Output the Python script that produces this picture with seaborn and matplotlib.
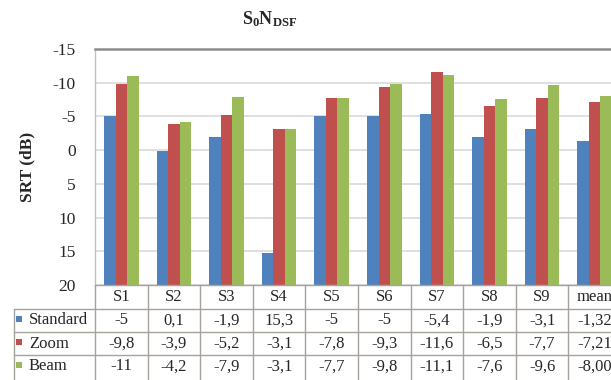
import matplotlib
matplotlib.use("Agg")
import matplotlib.pyplot as plt
import matplotlib.transforms as mtransforms
from matplotlib.lines import Line2D
from matplotlib.patches import Rectangle
import pandas as pd
import seaborn as sns

# ---- data -------------------------------------------------------------
subjects = ["S1", "S2", "S3", "S4", "S5", "S6", "S7", "S8", "S9", "mean"]
standard = [-5, 0.1, -1.9, 15.3, -5, -5, -5.4, -1.9, -3.1, -1.32]
zoom = [-9.8, -3.9, -5.2, -3.1, -7.8, -9.3, -11.6, -6.5, -7.7, -7.21]
beam = [-11, -4.2, -7.9, -3.1, -7.7, -9.8, -11.1, -7.6, -9.6, -8.00]
series_names = ["Standard", "Zoom", "Beam"]
series_values = [standard, zoom, beam]
series_colors = ["#4F81BD", "#C0504D", "#9BBB59"]
y_ticks = [-15, -10, -5, 0, 5, 10, 15, 20]

BASE = 20  # bars grow from the bottom of the reversed axis

rows = []
for name, vals in zip(series_names, series_values):
    for subj, v in zip(subjects, vals):
        rows.append({"subject": subj, "series": name, "value": v, "height": v - BASE})
df = pd.DataFrame(rows)

# ---- figure -----------------------------------------------------------
W, H = 611, 380
sns.set_style("white")
plt.rcParams["font.family"] = ["Liberation Serif", "DejaVu Serif"]
plt.rcParams["mathtext.fontset"] = "custom"
plt.rcParams["mathtext.rm"] = "Liberation Serif:bold"
plt.rcParams["mathtext.it"] = "Liberation Serif:bold"
plt.rcParams["mathtext.bf"] = "Liberation Serif:bold"

fig = plt.figure(figsize=(W / 100, H / 100), dpi=100)
fig.patch.set_facecolor("white")

def fx(px):
    return px / W

def fy(py):
    return 1 - py / H

ax_left, ax_right, ax_top, ax_bottom = 95, 621, 49, 285
ax = fig.add_axes([fx(ax_left), fy(ax_bottom), fx(ax_right - ax_left), (ax_bottom - ax_top) / H])

sns.barplot(data=df, x="subject", y="height", hue="series", order=subjects,
            hue_order=series_names, palette=series_colors, saturation=1,
            width=0.66, errorbar=None, bottom=BASE, legend=False,
            linewidth=0, edgecolor="none", ax=ax)

ax.set_ylim(BASE, -15)
ax.set_xlim(-0.5, len(subjects) - 0.5)
ax.set_yticks(y_ticks)
ax.set_yticklabels([str(t) for t in y_ticks], fontsize=12.5)
ax.tick_params(axis="y", length=0, pad=14)
ax.tick_params(axis="x", length=0, labelbottom=False)
ax.set_xlabel("")
ax.set_ylabel("SRT (dB)", fontsize=12.5, fontweight="bold", labelpad=12)
ax.yaxis.grid(True, color="#D9D9D9", linewidth=1.2)
ax.set_axisbelow(True)

for side in ["right", "bottom"]:
    ax.spines[side].set_visible(False)
ax.spines["top"].set_color("#8C8C8C")
ax.spines["top"].set_linewidth(1.8)
ax.spines["left"].set_color("#BFBFBF")
ax.spines["left"].set_linewidth(1.0)

fig.text(fx(270), fy(19), r"$\mathrm{S_0N_{DSF}}$", fontsize=13,
         ha="center", va="center")

# ---- data table under the plot ----------------------------------------
line_col = "#A8A29C"
blend = mtransforms.blended_transform_factory(ax.transData, fig.transFigure)
row_edges = [285, 309, 332, 355, 378]

def fmt(v, i):
    s = f"{v:.2f}" if subjects[i] == "mean" else f"{v:g}"
    return s.replace(".", ",")

# horizontal rules
for k, py in enumerate(row_edges[:-1]):
    x0 = fx(ax_left) if k == 0 else fx(14)
    fig.add_artist(Line2D([x0, 1.02], [fy(py), fy(py)], color=line_col, lw=1.0,
                          transform=fig.transFigure))
# vertical rules
for i in range(len(subjects) + 1):
    xd = i - 0.5
    fig.add_artist(Line2D([xd, xd], [fy(row_edges[0]), fy(H + 2)], color=line_col,
                          lw=1.0, transform=blend))
fig.add_artist(Line2D([fx(14), fx(14)], [fy(row_edges[1]), fy(H + 2)], color=line_col,
                      lw=1.0, transform=fig.transFigure))

# header row
hy = fy((row_edges[0] + row_edges[1]) / 2)
for i, s in enumerate(subjects):
    fig.text(i, hy, s, transform=blend, ha="center", va="center", fontsize=12)

# value rows with colour keys
for r, (name, vals, col) in enumerate(zip(series_names, series_values, series_colors)):
    cy = (row_edges[r + 1] + row_edges[r + 2]) / 2
    fig.add_artist(Rectangle((fx(16), fy(cy + 1)), fx(6), 6 / H, facecolor=col,
                             edgecolor="none", transform=fig.transFigure))
    fig.text(fx(29), fy(cy), name, ha="left", va="center", fontsize=12)
    for i, v in enumerate(vals):
        fig.text(i, fy(cy), fmt(v, i), transform=blend, ha="center", va="center",
                 fontsize=12)

fig.savefig("out.png", dpi=100, facecolor="white")
